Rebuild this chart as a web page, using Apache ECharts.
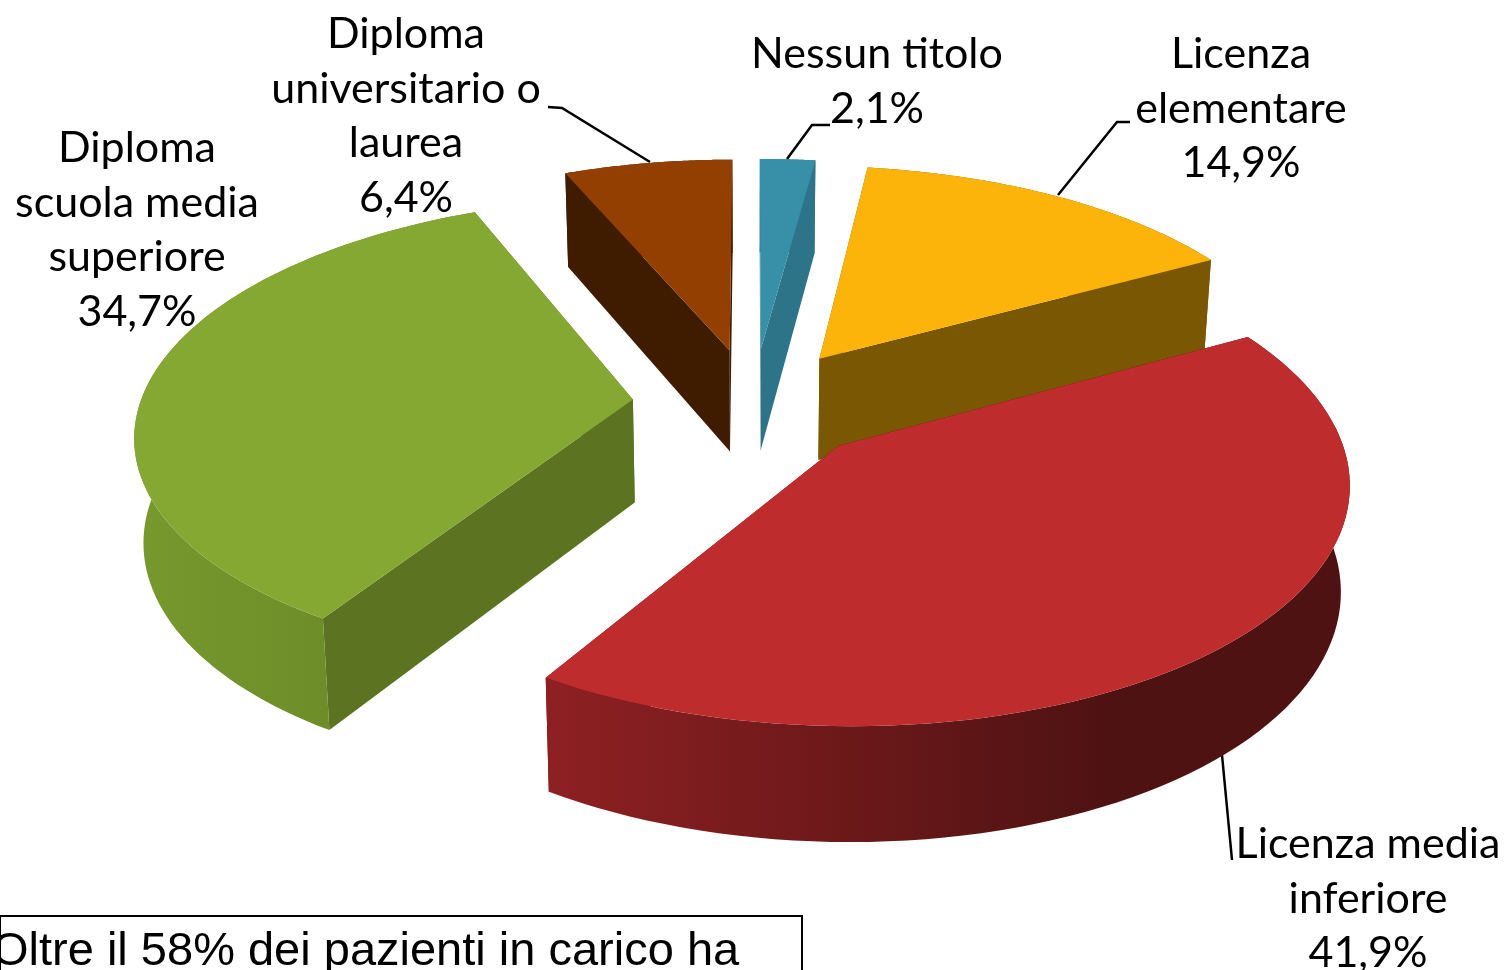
<!DOCTYPE html>
<html>
<head>
<meta charset="utf-8">
<title>Titolo di studio</title>
<style>
html,body{margin:0;padding:0;background:#fff;overflow:hidden}
#main{width:1506px;height:970px}
</style>
<script src="https://cdn.jsdelivr.net/npm/echarts@6/dist/echarts.min.js"></script>
</head>
<body>
<div id="main"></div>
<script>
// dati, in senso orario da ore 12
var categories = ['Nessun titolo', 'Licenza\nelementare', 'Licenza media\ninferiore', 'Diploma\nscuola media\nsuperiore', 'Diploma\nuniversitario o\nlaurea'];
var values = [2.1, 14.9, 41.9, 34.7, 6.4];
var boxText = 'Oltre il 58% dei pazienti in carico ha';

// colori: faccia sopra, taglio, bordo curvo
var topColors = ['#388fa8', '#fdb40a', '#bf2c2e', '#84a832', '#933f02'];
var cutColors = ['#2e7489', '#7a5703', '#4f1212', '#5c7321', '#3f1b00'];
var rimColors = [['#2e7489', '#2e7489'], ['#7a5703', '#7a5703'], ['#8e2023', '#4f1212'], ['#76982c', '#678428'], ['#3f1b00', '#3f1b00']];
var rimStops = [1, 1, 0.7, 1, 1];

// posizione delle etichette e linee guida
var labelPos = [[877, 27], [1241, 27], [1368, 817], [137, 121], [406, 7]];
var leaders = [
	[[830, 125], [812, 125], [787, 159]],
	[[1130, 122], [1117, 122], [1058, 195]],
	[[1222, 755], [1232, 860]],
	[],
	[[548, 107], [562, 108], [650, 162]]
];

// geometria della torta 3D
var pie = {cx: 753, cy: 404, a: 493, b: 230, k: 0.135, explode: 0.245, h: 103, zx: 0.985, zy: 1.04};
var drawOrder = [4, 0, 1, 3, 2];

function project(X, Y, bottom) {
	var s = 1 / (1 + pie.k * Y);
	var x = pie.a * X * s;
	var y = -pie.b * Y * s;
	if (bottom) {
		x = x * pie.zx;
		y = y * pie.zy + pie.h;
	}
	return [pie.cx + x, pie.cy + y];
}

function sliceAngles(i) {
	var total = 0, before = 0;
	for (var n = 0; n < values.length; n++) {
		if (n < i) before += values[n];
		total += values[n];
	}
	return [before / total * Math.PI * 2, (before + values[i]) / total * Math.PI * 2];
}

function renderSlice(params, api) {
	var i = api.value(0);
	var ang = sliceAngles(i);
	var mid = (ang[0] + ang[1]) / 2;
	var ox = pie.explode * Math.sin(mid), oy = pie.explode * Math.cos(mid);
	var topArc = [], botArc = [];
	var steps = 80;
	for (var n = 0; n <= steps; n++) {
		var t = ang[0] + (ang[1] - ang[0]) * n / steps;
		topArc.push(project(ox + Math.sin(t), oy + Math.cos(t), false));
		botArc.push(project(ox + Math.sin(t), oy + Math.cos(t), true));
	}
	var apexTop = project(ox, oy, false), apexBot = project(ox, oy, true);
	var xs = botArc.map(function (p) { return p[0]; });
	var minX = Math.min.apply(null, xs), maxX = Math.max.apply(null, xs);
	var rimFill = new echarts.graphic.LinearGradient(minX, 0, maxX, 0, [
		{offset: 0, color: rimColors[i][0]},
		{offset: rimStops[i], color: rimColors[i][1]},
		{offset: 1, color: rimColors[i][1]}
	], true);
	function quad(a, b, c, d) {
		return {type: 'polygon', shape: {points: [a, b, c, d]}, style: {fill: cutColors[i]}};
	}
	return {
		type: 'group',
		children: [
			quad(apexTop, topArc[0], botArc[0], apexBot),
			quad(apexTop, topArc[steps], botArc[steps], apexBot),
			{type: 'polygon', shape: {points: topArc.concat(botArc.slice().reverse())}, style: {fill: rimFill}},
			{type: 'polygon', shape: {points: [apexTop].concat(topArc)}, style: {fill: topColors[i]}}
		]
	};
}

var graphics = [];
categories.forEach(function (name, i) {
	if (leaders[i].length) {
		graphics.push({type: 'polyline', silent: true, shape: {points: leaders[i]}, style: {fill: null, stroke: '#000', lineWidth: 2.5}});
	}
	graphics.push({
		type: 'text',
		silent: true,
		x: labelPos[i][0],
		y: labelPos[i][1],
		style: {
			text: name + '\n' + values[i].toFixed(1).replace('.', ',') + '%',
			fill: '#000',
			font: '43px Lato',
			lineHeight: 54.5,
			align: 'center',
			verticalAlign: 'top'
		}
	});
});
// riquadro in basso, tagliato dal bordo
graphics.push({type: 'rect', silent: true, shape: {x: 0, y: 916, width: 802, height: 100}, style: {fill: '#fff', stroke: '#000', lineWidth: 2}});
graphics.push({
	type: 'text',
	silent: true,
	x: -8,
	y: 929,
	style: {text: boxText, fill: '#000', font: '47px "Liberation Sans"', align: 'left', verticalAlign: 'top'}
});

var myChart = echarts.init(document.getElementById('main'), null, {renderer: 'canvas'});
myChart.setOption({
	animation: false,
	backgroundColor: '#fff',
	graphic: graphics,
	series: [{
		type: 'custom',
		coordinateSystem: 'none',
		silent: true,
		renderItem: renderSlice,
		data: drawOrder.map(function (i) { return [i, values[i]]; })
	}]
});
</script>
</body>
</html>
